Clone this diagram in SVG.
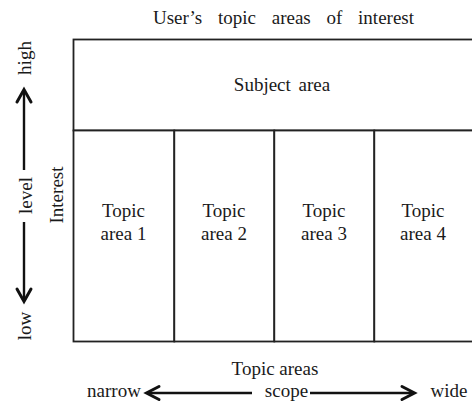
<svg xmlns="http://www.w3.org/2000/svg" width="472" height="405" viewBox="0 0 472 405">
<style>
text{font-family:"Liberation Serif","Times New Roman",serif;font-size:19px;fill:#1a1a1a;text-anchor:middle}
.box{fill:#fff;stroke:#222;stroke-width:1.8}
.ln{stroke:#111;stroke-width:2.4;fill:none}
.hd{stroke:#111;stroke-width:3;fill:none;stroke-linecap:round;stroke-linejoin:miter}
</style>
<rect width="472" height="405" fill="#fff"/>
<g id="title"><text x="283.5" y="24" font-size="20.5" word-spacing="11">User’s topic areas of interest</text></g>
<g id="subject-area"><rect class="box" x="73.5" y="39.5" width="420" height="91"/><text x="282" y="91" word-spacing="3">Subject area</text></g>
<g id="topic-area-1"><rect class="box" x="73.5" y="130.5" width="100.8" height="211"/><text x="123.5" y="217">Topic</text><text x="123.5" y="240">area 1</text></g>
<g id="topic-area-2"><rect class="box" x="174.3" y="130.5" width="100" height="211"/><text x="224" y="217">Topic</text><text x="224" y="240">area 2</text></g>
<g id="topic-area-3"><rect class="box" x="274.3" y="130.5" width="100" height="211"/><text x="324" y="217">Topic</text><text x="324" y="240">area 3</text></g>
<g id="topic-area-4"><rect class="box" x="374.3" y="130.5" width="120" height="211"/><text x="423" y="217">Topic</text><text x="423" y="240">area 4</text></g>
<g id="interest-label"><text transform="translate(63,195) rotate(-90)">Interest</text></g>
<g id="topic-areas-label"><text x="275" y="375">Topic areas</text></g>
<g id="level-axis">
<text transform="translate(31,58) rotate(-90)">high</text>
<text transform="translate(32,195.5) rotate(-90)" font-size="21">level</text>
<text transform="translate(31,326) rotate(-90)">low</text>
</g>
<g id="scope-axis">
<text x="114" y="397">narrow</text>
<text x="286.5" y="397">scope</text>
<text x="449" y="397">wide</text>
</g>
<g id="connectors">
<path class="ln" d="M24 90 V170"/>
<path class="hd" d="M17 102 L24 89.5 L31 102"/>
<path class="ln" d="M24 222 V300"/>
<path class="hd" d="M17 289 L24 301.5 L31 289"/>
<path class="ln" d="M148 393 H252"/>
<path class="hd" d="M159 386.5 L146.5 393 L159 399.5"/>
<path class="ln" d="M310 393 H413"/>
<path class="hd" d="M402 386.5 L414.5 393 L402 399.5"/>
</g>
</svg>
